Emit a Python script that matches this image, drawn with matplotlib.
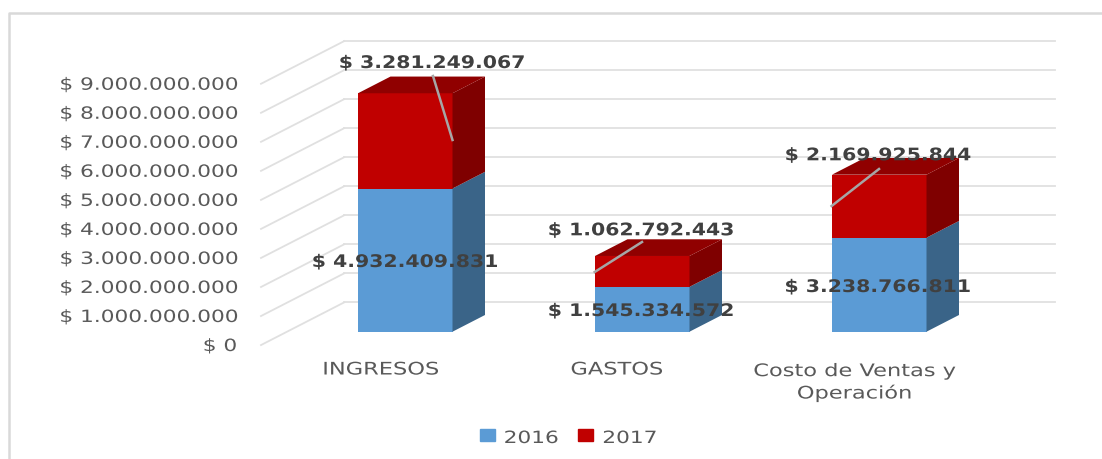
import matplotlib
matplotlib.use('Agg')
import matplotlib.pyplot as plt
from matplotlib.patches import Patch
from matplotlib.patheffects import AbstractPathEffect
from matplotlib.transforms import Affine2D, ScaledTranslation

# Data
categories = ['INGRESOS', 'GASTOS', 'Costo de Ventas y\nOperación']
values_2016 = [4932409831, 1545334572, 3238766811]
values_2017 = [3281249067, 1062792443, 2169925844]
tick_values = [0, 1000000000, 2000000000, 3000000000, 4000000000,
               5000000000, 6000000000, 7000000000, 8000000000, 9000000000]

# Layout, in pixels of the 1102x460 picture
W, H = 1102, 460
bar_left = [358, 595, 832]
bar_width = 94.5
label_x = [381, 617, 854.5]
floor_y = 332.7
px_per_value = 29.03 / 1e9
depth_x, depth_y = 32.5, 16.7


class Squash(AbstractPathEffect):
    # the reference text is stretched sideways, so flatten the glyphs on their baseline
    def __init__(self, sy):
        super().__init__()
        self.sy = sy

    def draw_path(self, renderer, gc, tpath, affine, rgbFace=None):
        renderer.draw_path(gc, tpath, Affine2D().scale(1, self.sy) + affine, rgbFace)


def money(v):
    return '$ ' + f'{v:,}'.replace(',', '.')


fig = plt.figure(figsize=(W / 100, H / 100), dpi=100)
ax = fig.add_axes([0, 0, 1, 1])
px = Affine2D().scale(1, -1).translate(0, H)  # top-left pixel coordinates
dy_val = depth_y / px_per_value

# Outer frame
ax.plot([8.5, 8.5, W], [H, 13.5, 13.5], color='#d9d9d9', lw=1.8, transform=px, solid_capstyle='butt')

# Gridlines: side wall and back wall
tick_shift = ax.transData + ScaledTranslation(0, -19.3 / 100, fig.dpi_scale_trans)
for v in tick_values:
    ax.plot([261, 344], [v - 0.8 * dy_val, v + 1.75 * dy_val], color='#e0e0e0', lw=1.3, zorder=1)
    ax.plot([344, 1055], [v + 1.75 * dy_val] * 2, color='#e0e0e0', lw=1.3, zorder=1)
    ax.text(237, v, money(v), transform=tick_shift, ha='right', va='baseline',
            fontsize=15.6, color='#595959', path_effects=[Squash(0.78)])

# Stacked bars with side and top faces
face_2016, side_2016 = '#5b9bd5', '#3a6488'
face_2017, side_2017, top_2017 = '#c00000', '#7f0000', '#900000'
ax.bar(bar_left, values_2016, width=bar_width, align='edge', color=face_2016, zorder=3)
ax.bar(bar_left, values_2017, bottom=values_2016, width=bar_width, align='edge', color=face_2017, zorder=3)

for left, a, b in zip(bar_left, values_2016, values_2017):
    r = left + bar_width
    ax.fill([r, r + depth_x, r + depth_x, r], [0, dy_val, a + dy_val, a], color=side_2016, lw=0, zorder=3)
    ax.fill([r, r + depth_x, r + depth_x, r], [a, a + dy_val, a + b + dy_val, a + b], color=side_2017, lw=0, zorder=3)
    ax.fill([left, left + depth_x, r + depth_x, r], [a + b, a + b + dy_val, a + b + dy_val, a + b],
            color=top_2017, lw=0, zorder=3)

# Leader lines
leaders = [([433, 452.5], [77, 141]), ([642, 594.7], [243, 273]), ([879, 831.6], [170, 207])]
for xs, ys in leaders:
    ax.plot(xs, ys, color='#a6a6a6', lw=1.8, transform=px, zorder=4)

# Data labels
pos_2016 = [(405, 268), (641, 317), (877.7, 293)]
pos_2017 = [(432, 69), (641, 236.3), (877.7, 161.3)]
for (x, y), v in zip(pos_2016 + pos_2017, values_2016 + values_2017):
    ax.text(x, y, money(v), transform=px, ha='center', va='baseline', fontsize=14.7,
            fontweight='bold', color='#404040', zorder=5, path_effects=[Squash(0.85)])

# Category labels, the baseline anchor sits on the last line
for x, name in zip(label_x, categories):
    ax.text(x, 375.5 + 24 * name.count('\n'), name, transform=px, ha='center', va='baseline',
            fontsize=16.2, color='#595959', linespacing=1.05, path_effects=[Squash(0.77)])

handles = [Patch(color=face_2016, label='2016'), Patch(color=face_2017, label='2017')]
legend = fig.legend(handles=handles, ncols=2, frameon=False, loc='center',
                    bbox_to_anchor=(568.5 / W, 1 - 438 / H), fontsize=15.6, labelcolor='#595959',
                    handlelength=0.69, handleheight=0.46, handletextpad=0.41, columnspacing=0.92)
for t in legend.get_texts():
    t.set_path_effects([Squash(0.78)])

ax.set_xlim(0, W)
ax.set_ylim(-(H - floor_y) / px_per_value, floor_y / px_per_value)
ax.axis('off')
fig.savefig('out.png', dpi=100)
